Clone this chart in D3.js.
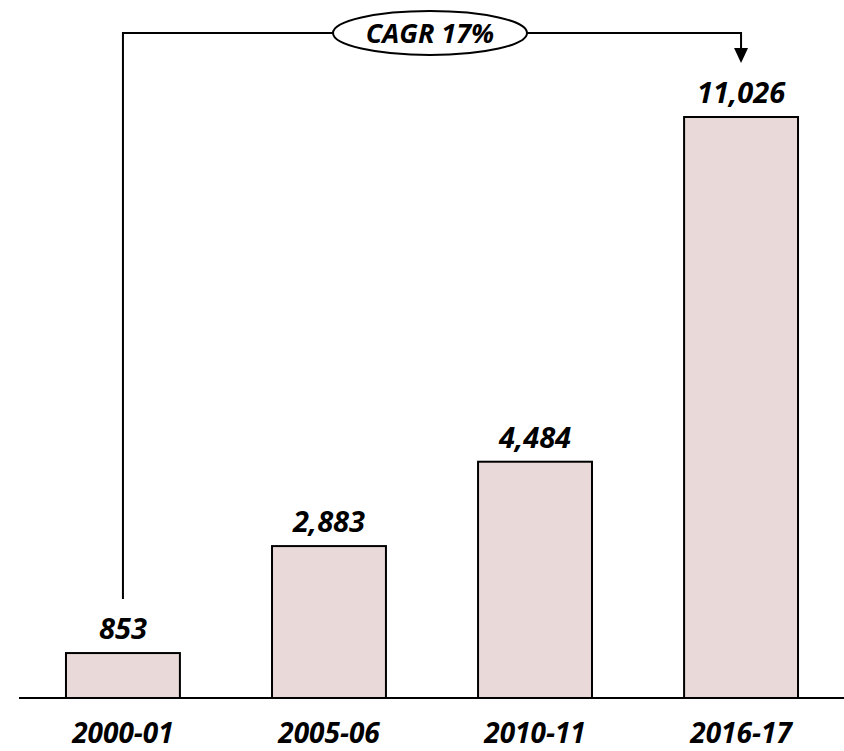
<!DOCTYPE html>
<html>
<head>
<meta charset="utf-8">
<script src="https://cdn.jsdelivr.net/npm/d3@7"></script>
<style>
  body { margin: 0; background: #fff; }
  text { font-family: "Open Sans", sans-serif; font-weight: bold; font-style: italic; fill: #000; }
</style>
</head>
<body>
<div id="container"></div>
<script>
const years = ["2000-01", "2005-06", "2010-11", "2016-17"];
const values = [853, 2883, 4484, 11026];
const cagrLabel = "CAGR 17%";

const w = 844;
const h = 751;
const baseY = 698;

const x = d3.scaleBand()
  .domain(years)
  .range([19, 845])
  .paddingInner(0.447)
  .paddingOuter(0.228);

const y = d3.scaleLinear()
  .domain([0, d3.max(values)])
  .range([baseY, 117]);

const svg = d3.select("#container")
  .append("svg")
  .attr("width", w)
  .attr("height", h);

// baseline
svg.append("line")
  .attr("x1", 19).attr("x2", w)
  .attr("y1", baseY).attr("y2", baseY)
  .attr("stroke", "#000").attr("stroke-width", 2);

svg.selectAll("rect.bar")
  .data(values)
  .enter()
  .append("rect")
  .attr("class", "bar")
  .attr("x", (d, i) => x(years[i]))
  .attr("y", d => y(d))
  .attr("width", x.bandwidth())
  .attr("height", d => baseY - y(d))
  .attr("fill", "#ead9d9")
  .attr("stroke", "#000")
  .attr("stroke-width", 2);

svg.selectAll("text.val")
  .data(values)
  .enter()
  .append("text")
  .attr("class", "val")
  .attr("x", (d, i) => x(years[i]) + x.bandwidth() / 2)
  .attr("y", d => y(d) - 14)
  .attr("text-anchor", "middle")
  .style("font-size", "29px")
  .text(d => d3.format(",")(d));

svg.selectAll("text.cat")
  .data(years)
  .enter()
  .append("text")
  .attr("class", "cat")
  .attr("x", d => x(d) + x.bandwidth() / 2)
  .attr("y", 743)
  .attr("text-anchor", "middle")
  .style("font-size", "28px")
  .text(d => d);

// CAGR connector
const lineY = 33;
const cx = 430, rx = 97, ry = 22;
const xa = x(years[0]) + x.bandwidth() / 2;
const xb = x(years[years.length - 1]) + x.bandwidth() / 2;
const ya = y(values[0]) - 54;
const yb = y(values[values.length - 1]) - 54;

svg.append("path")
  .attr("d", `M${xa},${ya} V${lineY} H${cx - rx}`)
  .attr("fill", "none").attr("stroke", "#000").attr("stroke-width", 2);

svg.append("path")
  .attr("d", `M${cx + rx},${lineY} H${xb} V${yb - 14}`)
  .attr("fill", "none").attr("stroke", "#000").attr("stroke-width", 2);

svg.append("path")
  .attr("d", `M${xb - 7},${yb - 15} L${xb + 7},${yb - 15} L${xb},${yb} Z`)
  .attr("fill", "#000");

svg.append("ellipse")
  .attr("cx", cx).attr("cy", lineY)
  .attr("rx", rx).attr("ry", ry)
  .attr("fill", "#fff").attr("stroke", "#000").attr("stroke-width", 2);

svg.append("text")
  .attr("x", cx).attr("y", lineY + 10)
  .attr("text-anchor", "middle")
  .style("font-size", "27px")
  .text(cagrLabel);
</script>
</body>
</html>
